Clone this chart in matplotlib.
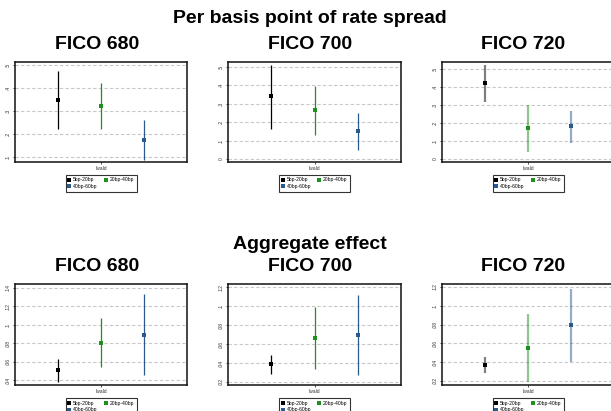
import matplotlib
matplotlib.use("Agg")
import matplotlib.pyplot as plt
from matplotlib.lines import Line2D

# ---------------- data ----------------
groups = ["5bp-20bp", "20bp-40bp", "40bp-60bp"]
fico_labels = ["FICO 680", "FICO 700", "FICO 720"]
row_titles = ["Per basis point of rate spread", "Aggregate effect"]
xcat = "lwald"

per_bp_est = [[0.348, 0.322, 0.175], [0.339, 0.264, 0.150], [0.421, 0.170, 0.181]]
per_bp_lo = [[0.222, 0.222, 0.088], [0.164, 0.132, 0.050], [0.319, 0.038, 0.089]]
per_bp_hi = [[0.474, 0.422, 0.261], [0.507, 0.395, 0.250], [0.522, 0.300, 0.268]]

agg_est = [[0.0508, 0.0804, 0.0890], [0.0385, 0.0666, 0.0700], [0.0368, 0.0556, 0.0794]]
agg_lo = [[0.0382, 0.0540, 0.0454], [0.0284, 0.0333, 0.0274], [0.0282, 0.0190, 0.0403]]
agg_hi = [[0.0626, 0.1070, 0.1336], [0.0484, 0.0989, 0.1122], [0.0453, 0.0914, 0.1180]]

per_bp_ticks = [[0.1, 0.2, 0.3, 0.4, 0.5], [0, 0.1, 0.2, 0.3, 0.4, 0.5], [0, 0.1, 0.2, 0.3, 0.4, 0.5]]
per_bp_ticklabels = [[".1", ".2", ".3", ".4", ".5"], ["0", ".1", ".2", ".3", ".4", ".5"], ["0", ".1", ".2", ".3", ".4", ".5"]]
agg_ticks = [[0.04, 0.06, 0.08, 0.10, 0.12, 0.14], [0.02, 0.04, 0.06, 0.08, 0.10, 0.12], [0.02, 0.04, 0.06, 0.08, 0.10, 0.12]]
agg_ticklabels = [[".04", ".06", ".08", ".1", ".12", ".14"], [".02", ".04", ".06", ".08", ".1", ".12"], [".02", ".04", ".06", ".08", ".1", ".12"]]

# ---------------- style ----------------
W, H = 611, 411
colors = ["#000000", "#1f8f1f", "#2a5a8c"]
per_bp_ylim = [(0.078, 0.513), (-0.016, 0.525), (-0.017, 0.540)]
agg_ylim = [(0.0346, 0.1443), (0.0168, 0.1235), (0.0157, 0.1232)]
FONT = "Liberation Sans"

fig = plt.figure(figsize=(W / 100, H / 100), dpi=100)
fig.patch.set_facecolor("white")

def px_axes(x0, x1, ytop, ybot):
    return fig.add_axes([x0 / W, 1 - ybot / H, (x1 - x0) / W, (ybot - ytop) / H])

panel_x = [(15, 187), (228, 401), (442, 614)]
rows = [
    dict(ytop=62, ybot=162, est=per_bp_est, lo=per_bp_lo, hi=per_bp_hi,
         ticks=per_bp_ticks, tl=per_bp_ticklabels, ylim=per_bp_ylim),
    dict(ytop=284, ybot=385, est=agg_est, lo=agg_lo, hi=agg_hi,
         ticks=agg_ticks, tl=agg_ticklabels, ylim=agg_ylim),
]

positions = [1, 2, 3]
MS = 2.5

for r, row in enumerate(rows):
    for p in range(3):
        x0, x1 = panel_x[p]
        ax = px_axes(x0, x1, row["ytop"], row["ybot"])
        faded = (p == 2)
        for g in range(3):
            est = row["est"][p][g]
            lo = row["lo"][p][g]
            hi = row["hi"][p][g]
            ax.plot([positions[g], positions[g]], [lo, hi], color=colors[g],
                    lw=1.6 if faded else 0.9, alpha=0.5 if faded else 1.0,
                    solid_capstyle="butt", zorder=3)
            ax.plot([positions[g]], [est], marker="s", ms=MS, mew=0, color=colors[g],
                    linestyle="none", zorder=4)
        ax.set_xlim(0, 4)
        ax.set_ylim(*row["ylim"][p])
        ax.set_yticks(row["ticks"][p])
        ax.set_yticklabels(row["tl"][p], rotation=90, va="center",
                           fontsize=3.6, color="#333333", family=FONT)
        ax.set_xticks([2])
        ax.set_xticklabels([xcat], fontsize=3.6, color="#333333", family=FONT)
        ax.tick_params(axis="y", length=1.5, width=0.5, pad=1.5)
        ax.tick_params(axis="x", length=1.5, width=0.5, pad=1.5)
        ax.grid(axis="y", linestyle=(0, (3, 2)), color="#c8c8c8", lw=0.8, zorder=1)
        for s in ax.spines.values():
            s.set_linewidth(1.1)
            s.set_color("#111111")
        handles = [Line2D([], [], marker="s", ms=MS, mew=0, color=colors[g], linestyle="none")
                   for g in range(3)]
        order = [0, 2, 1]  # row-major fill for 2 columns
        leg = ax.legend([handles[i] for i in order], [groups[i] for i in order],
                        loc="upper center", bbox_to_anchor=(0.5, -0.105),
                        ncol=2, frameon=True, fancybox=False,
                        handlelength=0.5, handletextpad=0.5, columnspacing=1.4,
                        borderpad=0.5, labelspacing=0.35, prop={"family": FONT, "size": 3.6})
        leg.get_frame().set_edgecolor("black")
        leg.get_frame().set_linewidth(0.8)

# titles
title_cx = [97, 310, 523.5]
for p in range(3):
    fig.text(title_cx[p] / W, 1 - 49 / H, fico_labels[p], ha="center", va="baseline",
             fontsize=14, fontweight="bold", family=FONT)
    fig.text(title_cx[p] / W, 1 - 271 / H, fico_labels[p], ha="center", va="baseline",
             fontsize=14, fontweight="bold", family=FONT)
fig.text(310 / W, 1 - 23 / H, row_titles[0], ha="center", va="baseline",
         fontsize=14, fontweight="bold", family=FONT)
fig.text(310 / W, 1 - 249 / H, row_titles[1], ha="center", va="baseline",
         fontsize=14, fontweight="bold", family=FONT)

fig.savefig("out.png", dpi=100, facecolor="white")
